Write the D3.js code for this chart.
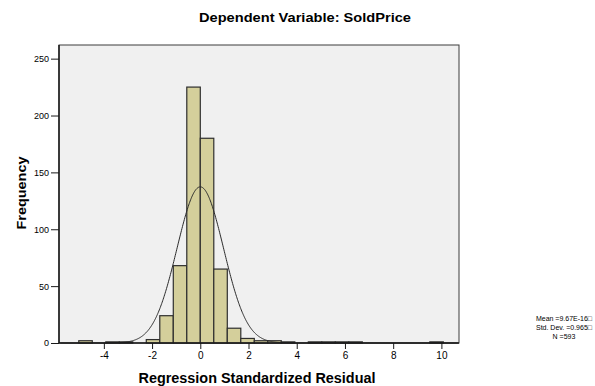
<!DOCTYPE html>
<html><head><meta charset="utf-8">
<script src="https://cdn.jsdelivr.net/npm/d3@7"></script>
<style>body{margin:0;background:#fff}svg{display:block}text{font-family:Arial,"Liberation Sans",sans-serif}</style>
</head><body>
<script>
const titleText = "Dependent Variable: SoldPrice";
const xLabel = "Regression Standardized Residual";
const yLabel = "Frequency";
const binWidth = 0.56;
// bin start indices (bin = [k*w, (k+1)*w]) and counts
const binIndex = [-9, -7, -6, -4, -3, -2, -1, 0, 1, 2, 3, 4, 5, 6, 8, 9, 10, 11, 17];
const binCounts = [2, 1, 1, 3, 24, 68, 225, 180, 65, 13, 4, 2, 2, 1, 1, 1, 1, 1, 1];
const xTicks = [-4, -2, 0, 2, 4, 6, 8, 10];
const yTicks = [0, 50, 100, 150, 200, 250];
const statMean = 0, statSD = 0.965, statN = 593;
const statLines = ["Mean =9.67E-16\u25A1", "Std. Dev. =0.965\u25A1", "N =593"];

const W = 595, H = 386;
const svg = d3.select("body").append("svg").attr("width", W).attr("height", H);
const L = 59, R = 459, T = 45, B = 343;
const x = d3.scaleLinear().domain([-5.86, 10.73]).range([L, R]);
const y = d3.scaleLinear().domain([0, 262]).range([B, T]);

svg.append("rect").attr("x", L).attr("y", T).attr("width", R - L).attr("height", B - T)
  .attr("fill", "#f0f0f0").attr("stroke", "#3c3c3c").attr("stroke-width", 1);

const bins = binIndex.map((k, i) => ({x0: k * binWidth, x1: (k + 1) * binWidth, n: binCounts[i]}));
svg.append("g").selectAll("rect").data(bins).join("rect")
  .attr("x", d => x(d.x0)).attr("width", d => x(d.x1) - x(d.x0))
  .attr("y", d => y(d.n)).attr("height", d => y(0) - y(d.n))
  .attr("fill", "#d4cf9b").attr("stroke", "#2e2e2e").attr("stroke-width", 1.2);

// normal curve
const pdf = v => Math.exp(-0.5 * Math.pow((v - statMean) / statSD, 2)) / (statSD * Math.sqrt(2 * Math.PI));
const xs = d3.range(-5.8, 10.7, 0.02);
svg.append("path").datum(xs)
  .attr("d", d3.line().x(v => x(v)).y(v => y(statN * binWidth * pdf(v))))
  .attr("fill", "none").attr("stroke", "#2a2a2a").attr("stroke-width", 1);

// axes lines
svg.append("line").attr("x1", L).attr("x2", R).attr("y1", B).attr("y2", B).attr("stroke", "#1a1a1a").attr("stroke-width", 1.5);
svg.append("line").attr("x1", L).attr("x2", L).attr("y1", T).attr("y2", B).attr("stroke", "#1a1a1a").attr("stroke-width", 1.5);

const xAxis = d3.axisBottom(x).tickValues(xTicks).tickFormat(d => String(d)).tickSize(6).tickSizeOuter(0).tickPadding(3);
const gx = svg.append("g").attr("transform", `translate(0,${B})`).call(xAxis);
gx.select(".domain").remove();
gx.selectAll("line").attr("stroke", "#1a1a1a");
gx.selectAll("text").attr("font-size", 10).attr("fill", "#000").attr("font-family", "Arial, 'Liberation Sans', sans-serif");

const yAxis = d3.axisLeft(y).tickValues(yTicks).tickFormat(d => String(d)).tickSize(8).tickSizeOuter(0).tickPadding(2);
const gy = svg.append("g").attr("transform", `translate(${L},0)`).call(yAxis);
gy.select(".domain").remove();
gy.selectAll("line").attr("stroke", "#1a1a1a");
gy.selectAll("text").attr("font-size", 9).attr("fill", "#000").attr("font-family", "Arial, 'Liberation Sans', sans-serif");

svg.append("text").attr("x", 305).attr("y", 22).attr("text-anchor", "middle")
  .attr("font-size", 13).attr("font-weight", "bold").text(titleText)
  .attr("textLength", 212).attr("lengthAdjust", "spacingAndGlyphs");
svg.append("text").attr("x", 257).attr("y", 383).attr("text-anchor", "middle")
  .attr("font-size", 14).attr("font-weight", "bold").text(xLabel)
  .attr("textLength", 237).attr("lengthAdjust", "spacingAndGlyphs");
svg.append("text").attr("transform", "translate(26,193) rotate(-90)").attr("text-anchor", "middle")
  .attr("font-size", 13).attr("font-weight", "bold").text(yLabel)
  .attr("textLength", 73).attr("lengthAdjust", "spacingAndGlyphs");

svg.append("g").selectAll("text").data(statLines).join("text")
  .attr("x", 564).attr("y", (d, i) => 321 + i * 9).attr("text-anchor", "middle")
  .attr("font-size", 7).attr("font-family", "'Liberation Sans', Arial, 'DejaVu Sans', sans-serif")
  .text(d => d);
</script>
</body></html>
